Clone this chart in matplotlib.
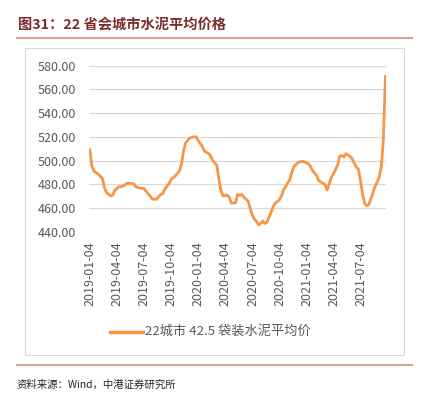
import matplotlib
matplotlib.use("Agg")
import matplotlib.pyplot as plt
import matplotlib.dates as mdates
from matplotlib.lines import Line2D
from matplotlib.patches import Rectangle
import pandas as pd

plt.rcParams['font.family'] = ['Noto Sans CJK SC', 'DejaVu Sans']

# weekly readings
dates = [
    "2019-01-04", "2019-01-11", "2019-01-18", "2019-02-01", "2019-02-15", "2019-02-22",
    "2019-03-01", "2019-03-15", "2019-03-22", "2019-03-29", "2019-04-12", "2019-04-19",
    "2019-05-03", "2019-05-10", "2019-05-24", "2019-05-31", "2019-06-07", "2019-06-21",
    "2019-07-05", "2019-07-12", "2019-07-26", "2019-08-02", "2019-08-16", "2019-08-30",
    "2019-09-06", "2019-09-13", "2019-09-27", "2019-10-04", "2019-10-18", "2019-11-01",
    "2019-11-08", "2019-11-15", "2019-11-22", "2019-11-29", "2019-12-06", "2019-12-20",
    "2019-12-27", "2020-01-03", "2020-01-17", "2020-01-24", "2020-02-07", "2020-02-14",
    "2020-02-21", "2020-03-06", "2020-03-13", "2020-03-20", "2020-03-27", "2020-04-10",
    "2020-04-17", "2020-04-24", "2020-05-08", "2020-05-15", "2020-05-22", "2020-05-29",
    "2020-06-05", "2020-06-19", "2020-07-03", "2020-07-10", "2020-07-17", "2020-07-24",
    "2020-07-31", "2020-08-07", "2020-08-14", "2020-08-21", "2020-08-28", "2020-09-04",
    "2020-09-11", "2020-09-18", "2020-10-02", "2020-10-09", "2020-10-16", "2020-10-23",
    "2020-11-06", "2020-11-13", "2020-11-20", "2020-12-04", "2020-12-18", "2020-12-25",
    "2021-01-01", "2021-01-08", "2021-01-15", "2021-01-22", "2021-02-05", "2021-02-12",
    "2021-02-26", "2021-03-05", "2021-03-12", "2021-03-19", "2021-03-26", "2021-04-02",
    "2021-04-16", "2021-04-23", "2021-04-30", "2021-05-07", "2021-05-14", "2021-05-28",
    "2021-06-04", "2021-06-18", "2021-06-25", "2021-07-02", "2021-07-09", "2021-07-16",
    "2021-07-23", "2021-07-30", "2021-08-06", "2021-08-13", "2021-08-20", "2021-08-27",
    "2021-09-03", "2021-09-10", "2021-09-17", "2021-09-24",
]
prices = [
    509, 495, 491, 488.5, 485, 477,
    473, 470, 471, 475, 478, 478,
    479.5, 481, 480.6, 480.5, 478, 476.7,
    476.5, 474, 470, 467.5, 467.4, 471.5,
    472, 476, 480.5, 484, 487, 491,
    497, 508, 515, 517, 519, 520,
    520, 517, 512, 508, 506, 504,
    500, 496, 484, 474.5, 470, 471,
    469, 464, 464.5, 471.5, 470.5, 471.5,
    469, 466, 454, 450.5, 449, 445.7,
    446.8, 449, 447, 447.7, 452, 456,
    461, 464, 466.7, 470, 475, 478,
    483.7, 490, 495, 498.4, 499.5, 499,
    498, 497.3, 495, 491.6, 487.3, 483,
    480.8, 479.7, 475.2, 480.3, 485.9, 488.8,
    495.8, 503.5, 504.3, 502.9, 505.8, 503.5,
    501.5, 494.4, 493, 483, 472, 464,
    461.8, 462.7, 467.5, 473, 478, 481.7,
    486, 494.4, 517, 571,
]
x_ticks = ["2019-01-04", "2019-04-04", "2019-07-04", "2019-10-04", "2020-01-04", "2020-04-04",
           "2020-07-04", "2020-10-04", "2021-01-04", "2021-04-04", "2021-07-04"]
y_ticks = [440, 460, 480, 500, 520, 540, 560, 580]
series_name = "22城市 42.5 袋装水泥平均价"

W, H = 422, 396
fig = plt.figure(figsize=(W / 100, H / 100), dpi=100)

def fx(px):
    return px / W

def fy(py):
    return 1 - py / H

# title and rules
fig.text(fx(18), fy(25), "图31：22 省会城市水泥平均价格", fontsize=10.3, fontweight='bold',
         color='#7B2C2C', va='center', ha='left')
rule = '#D9A393'
fig.add_artist(Line2D([fx(17), fx(412)], [fy(37.5), fy(37.5)], color=rule, lw=1.5))
fig.add_artist(Line2D([fx(17), fx(412)], [fy(365), fy(365)], color=rule, lw=1.5))
fig.add_artist(Rectangle((fx(25), fy(355)), fx(404) - fx(25), fy(48) - fy(355),
                         fill=False, edgecolor='#D9D9D9', lw=0.8))

ax = fig.add_axes([fx(89), fy(231.7), fx(386) - fx(89), fy(65.7) - fy(231.7)])
d = pd.to_datetime(dates)
ax.plot(d, prices, color='#F79646', lw=2.0, solid_joinstyle='round')

ax.set_ylim(440, 580)
ax.set_yticks(y_ticks)
ax.yaxis.set_major_formatter(plt.FuncFormatter(lambda v, p: f"{v:.2f}"))
ax.set_xlim(pd.Timestamp("2019-01-01"), pd.Timestamp("2021-09-26"))
ax.set_xticks(pd.to_datetime(x_ticks))
ax.xaxis.set_major_formatter(mdates.DateFormatter("%Y-%m-%d"))
ax.tick_params(axis='x', rotation=90, length=0, pad=7, labelsize=9, labelcolor='#595959')
ax.tick_params(axis='y', length=0, pad=9, labelsize=9, labelcolor='#595959')
ax.grid(axis='y', color='#D9D9D9', lw=0.9)
ax.set_axisbelow(True)
for s in ax.spines.values():
    s.set_visible(False)

# legend
fig.add_artist(Line2D([fx(110), fx(143)], [fy(331.5), fy(331.5)], color='#F79646', lw=2.5))
fig.text(fx(145), fy(331.5), series_name, fontsize=9.5, color='#595959', va='center', ha='left')

fig.text(fx(17), fy(385), "资料来源：Wind，中港证券研究所", fontsize=7.5, style='italic',
         color='#222222', va='center', ha='left')

fig.savefig("out.png", dpi=100)
